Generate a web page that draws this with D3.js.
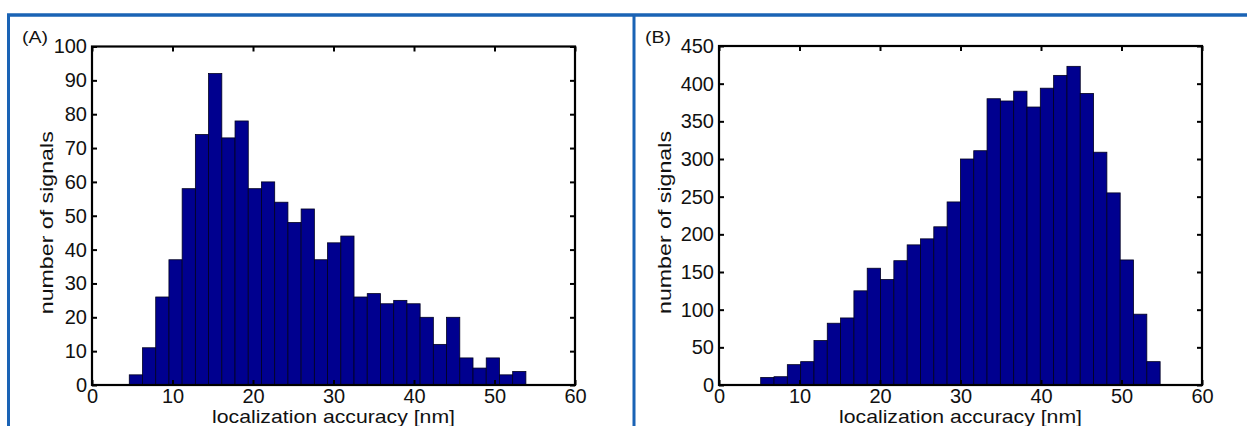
<!DOCTYPE html>
<html>
<head>
<meta charset="utf-8">
<script src="https://cdn.jsdelivr.net/npm/d3@7"></script>
<style>
  body { margin: 0; background: #fff; }
  text { font-family: "Liberation Sans", Arial, sans-serif; fill: #111; }
</style>
</head>
<body>
<div id="chart"></div>
<script>
// Histogram counts (30 bins each)
const countsA = [3, 11, 26, 37, 58, 74, 92, 73, 78, 58, 60, 54, 48, 52, 37,
                 42, 44, 26, 27, 24, 25, 24, 20, 12, 20, 8, 5, 8, 3, 4];
const countsB = [10, 11, 27, 31, 59, 82, 89, 125, 155, 140, 165, 186, 194, 210, 243,
                 300, 311, 380, 377, 390, 369, 394, 411, 423, 387, 309, 255, 166, 94, 31];
// bin range of each histogram [nm]
const rangeA = [4.63, 53.9];
const rangeB = [5.18, 54.8];

const xTicks = [0, 10, 20, 30, 40, 50, 60];
const yTicksA = [0, 10, 20, 30, 40, 50, 60, 70, 80, 90, 100];
const yTicksB = [0, 50, 100, 150, 200, 250, 300, 350, 400, 450];
const xLabel = "localization accuracy [nm]";
const yLabel = "number of signals";

const W = 1247, H = 426;
const svg = d3.select("#chart").append("svg")
    .attr("width", W)
    .attr("height", H);

// blue frame of the figure
const frame = "#1a63b5";
svg.append("line").attr("x1", 7).attr("x2", W).attr("y1", 15).attr("y2", 15)
    .attr("stroke", frame).attr("stroke-width", 3.5);
svg.append("line").attr("x1", 8.5).attr("x2", 8.5).attr("y1", 14).attr("y2", H)
    .attr("stroke", frame).attr("stroke-width", 3);
svg.append("line").attr("x1", 634).attr("x2", 634).attr("y1", 14).attr("y2", H)
    .attr("stroke", frame).attr("stroke-width", 3);

function panel(opts) {
    const {counts, range, yMax, yTicks, left, right, top, bottom, tag, tagX, yLabX} = opts;

    const x = d3.scaleLinear().domain([0, 60]).range([left, right]);
    const y = d3.scaleLinear().domain([0, yMax]).range([bottom, top]);
    const bw = (range[1] - range[0]) / counts.length;

    const g = svg.append("g");

    // bars
    g.selectAll("rect.bar")
        .data(counts)
        .enter().append("rect")
        .attr("class", "bar")
        .attr("x", (d, i) => x(range[0] + i * bw))
        .attr("width", (d, i) => x(range[0] + (i + 1) * bw) - x(range[0] + i * bw))
        .attr("y", d => y(d))
        .attr("height", d => bottom - y(d))
        .attr("fill", "#00008f")
        .attr("stroke", "#000020")
        .attr("stroke-width", 0.8);

    // axes with inward ticks on all four sides
    const tl = 5;
    g.append("g").attr("transform", `translate(0,${bottom})`)
        .call(d3.axisBottom(x).tickValues(xTicks).tickSizeInner(-tl).tickSizeOuter(0).tickPadding(4))
        .call(a => a.select(".domain").remove());
    g.append("g").attr("transform", `translate(0,${top})`)
        .call(d3.axisTop(x).tickValues(xTicks).tickSizeInner(-tl).tickSizeOuter(0).tickFormat(""))
        .call(a => a.select(".domain").remove());
    g.append("g").attr("transform", `translate(${left},0)`)
        .call(d3.axisLeft(y).tickValues(yTicks).tickSizeInner(-tl).tickSizeOuter(0).tickPadding(5))
        .call(a => a.select(".domain").remove());
    g.append("g").attr("transform", `translate(${right},0)`)
        .call(d3.axisRight(y).tickValues(yTicks).tickSizeInner(-tl).tickSizeOuter(0).tickFormat(""))
        .call(a => a.select(".domain").remove());

    g.selectAll(".tick line").attr("stroke", "#000").attr("stroke-width", 2);
    g.selectAll(".tick text")
        .attr("font-size", 20)
        .attr("font-family", "Liberation Sans, Arial, sans-serif")
        .attr("fill", "#111");

    // box
    g.append("rect")
        .attr("x", left).attr("y", top)
        .attr("width", right - left).attr("height", bottom - top)
        .attr("fill", "none").attr("stroke", "#000").attr("stroke-width", 2.2);

    // axis titles
    g.append("text")
        .attr("x", (left + right) / 2)
        .attr("y", 423)
        .attr("text-anchor", "middle")
        .attr("font-size", 19)
        .attr("textLength", 243)
        .attr("lengthAdjust", "spacingAndGlyphs")
        .text(xLabel);

    g.append("text")
        .attr("transform", `translate(${yLabX},${(top + bottom) / 2 + 7}) rotate(-90)`)
        .attr("text-anchor", "middle")
        .attr("font-size", 19)
        .attr("textLength", 183)
        .attr("lengthAdjust", "spacingAndGlyphs")
        .text(yLabel);

    // panel tag
    g.append("text")
        .attr("x", tagX)
        .attr("y", 43)
        .attr("font-size", 16)
        .attr("textLength", 26)
        .attr("lengthAdjust", "spacingAndGlyphs")
        .text(tag);
}

panel({counts: countsA, range: rangeA, yMax: 100, yTicks: yTicksA,
       left: 92, right: 575, top: 46.5, bottom: 385, tag: "(A)", tagX: 22, yLabX: 53});
panel({counts: countsB, range: rangeB, yMax: 450, yTicks: yTicksB,
       left: 719, right: 1202, top: 46, bottom: 385, tag: "(B)", tagX: 645, yLabX: 671});
</script>
</body>
</html>
